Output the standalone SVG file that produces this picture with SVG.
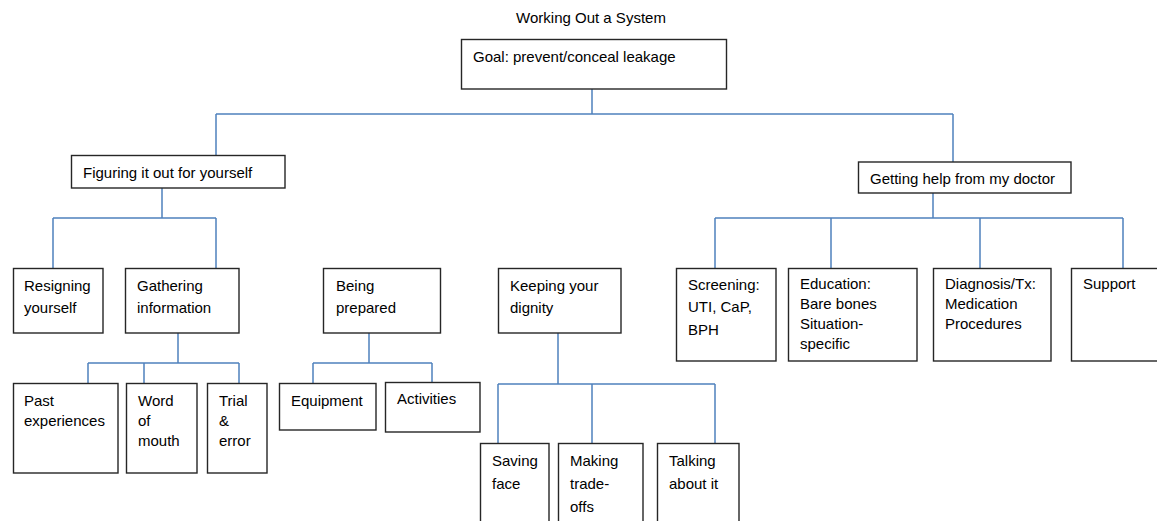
<svg xmlns="http://www.w3.org/2000/svg" width="1157" height="521" viewBox="0 0 1157 521">
<style>
.b{fill:#fff;stroke:#262626;stroke-width:1.4}
.t{font-family:"Liberation Sans",Arial,sans-serif;font-size:15px;fill:#000}
.c{fill:none;stroke:#4f81bd;stroke-width:1.5}
</style>
<rect width="1157" height="521" fill="#fff"/>
<text class="t" x="591" y="23" text-anchor="middle" font-size="14.7">Working Out a System</text>
<g id="connectors">
<path class="c" d="M592 89V114M216 114H953M216 114V155M953 114V162"/>
<path class="c" d="M162 188V218M53 218H216M53 218V268M216 218V268"/>
<path class="c" d="M933 193V218M715 218H1123M715 218V268M831 218V268M980 218V268M1123 218V268"/>
<path class="c" d="M178 333V363M88 363H239M88 363V383M144 363V383M239 363V383"/>
<path class="c" d="M369 333V363M313 363H432M313 363V383M432 363V382"/>
<path class="c" d="M558 333V384M498 384H715M498 384V443M592 384V443M715 384V443"/>
</g>
<g id="goal"><rect class="b" x="461.5" y="39.5" width="265" height="49.5"/><text class="t" x="473" y="62">Goal: prevent/conceal leakage</text></g>
<g id="figuring"><rect class="b" x="71.5" y="155.5" width="213.5" height="32.5"/><text class="t" x="83" y="178">Figuring it out for yourself</text></g>
<g id="getting"><rect class="b" x="858.5" y="162" width="212.5" height="31"/><text class="t" x="870" y="184">Getting help from my doctor</text></g>
<g id="resigning"><rect class="b" x="13.5" y="268.5" width="89.5" height="64.5"/><text class="t" x="24" y="291">Resigning</text><text class="t" x="24" y="313">yourself</text></g>
<g id="gathering"><rect class="b" x="125.5" y="268.5" width="113.5" height="64.5"/><text class="t" x="137" y="291">Gathering</text><text class="t" x="137" y="313">information</text></g>
<g id="being"><rect class="b" x="323.5" y="268.5" width="117" height="64.5"/><text class="t" x="336" y="291">Being</text><text class="t" x="336" y="313">prepared</text></g>
<g id="keeping"><rect class="b" x="498.5" y="268.5" width="122.5" height="64.5"/><text class="t" x="510" y="291">Keeping your</text><text class="t" x="510" y="313">dignity</text></g>
<g id="screening"><rect class="b" x="676.5" y="268.5" width="99.5" height="92.5"/><text class="t" x="688" y="290">Screening:</text><text class="t" x="688" y="312">UTI, CaP,</text><text class="t" x="688" y="335">BPH</text></g>
<g id="education"><rect class="b" x="788.5" y="268.5" width="128.5" height="92.5"/><text class="t" x="800" y="289">Education:</text><text class="t" x="800" y="309">Bare bones</text><text class="t" x="800" y="329">Situation-</text><text class="t" x="800" y="349">specific</text></g>
<g id="diagnosis"><rect class="b" x="933.5" y="268.5" width="117.5" height="92.5"/><text class="t" x="945" y="289">Diagnosis/Tx:</text><text class="t" x="945" y="309">Medication</text><text class="t" x="945" y="329">Procedures</text></g>
<g id="support"><rect class="b" x="1071.5" y="268.5" width="100" height="92.5"/><text class="t" x="1083" y="289">Support</text></g>
<g id="past"><rect class="b" x="13.5" y="383.5" width="104.5" height="89.5"/><text class="t" x="24" y="406">Past</text><text class="t" x="24" y="426">experiences</text></g>
<g id="word"><rect class="b" x="126.5" y="383.5" width="70.5" height="89.5"/><text class="t" x="138" y="406">Word</text><text class="t" x="138" y="426">of</text><text class="t" x="138" y="446">mouth</text></g>
<g id="trial"><rect class="b" x="207.5" y="383.5" width="59.5" height="89.5"/><text class="t" x="219" y="406">Trial</text><text class="t" x="219" y="426">&amp;</text><text class="t" x="219" y="446">error</text></g>
<g id="equipment"><rect class="b" x="279.5" y="383.5" width="96.5" height="46.5"/><text class="t" x="291" y="406">Equipment</text></g>
<g id="activities"><rect class="b" x="385.5" y="382.5" width="94.5" height="49.5"/><text class="t" x="397" y="404">Activities</text></g>
<g id="saving"><rect class="b" x="480.5" y="443.5" width="68.5" height="90"/><text class="t" x="492" y="466">Saving</text><text class="t" x="492" y="489">face</text></g>
<g id="making"><rect class="b" x="558.5" y="443.5" width="84.5" height="90"/><text class="t" x="570" y="466">Making</text><text class="t" x="570" y="489">trade-</text><text class="t" x="570" y="512">offs</text></g>
<g id="talking"><rect class="b" x="657.5" y="443.5" width="81.5" height="90"/><text class="t" x="669" y="466">Talking</text><text class="t" x="669" y="489">about it</text></g>
</svg>
